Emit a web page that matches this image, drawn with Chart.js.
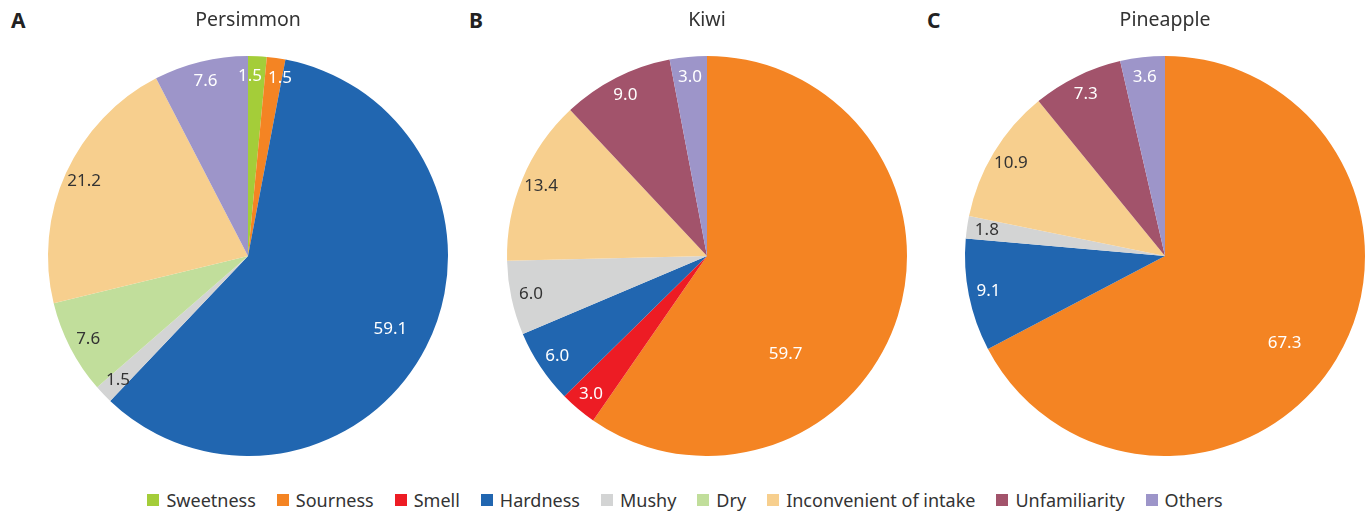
<!DOCTYPE html>
<html>
<head>
<meta charset="utf-8">
<script src="https://cdn.jsdelivr.net/npm/chart.js@4/dist/chart.umd.min.js"></script>
<style>
  html, body { margin: 0; padding: 0; background: #fff; }
  body { width: 1370px; height: 516px; position: relative; overflow: hidden; font-family: "Noto Sans", sans-serif; }
  .panel { position: absolute; top: 0; width: 458px; height: 456px; }
  .tag { position: absolute; top: 6px; font: bold 21px "Noto Sans", sans-serif; color: #222; }
  #legend { position: absolute; left: 0; right: 0; top: 488px; display: flex; justify-content: center; align-items: center; font-size: 18px; color: #333; }
  #legend .item { display: flex; align-items: center; margin: 0 10.5px; }
  #legend .box { width: 12px; height: 12px; margin-right: 7px; }
</style>
</head>
<body>
<div class="tag" style="left:11px">A</div>
<div class="tag" style="left:469px">B</div>
<div class="tag" style="left:927px">C</div>
<div class="panel" style="left:19px"><canvas id="c0" width="458" height="456"></canvas></div>
<div class="panel" style="left:478px"><canvas id="c1" width="458" height="456"></canvas></div>
<div class="panel" style="left:936px"><canvas id="c2" width="458" height="456"></canvas></div>
<div id="legend"></div>
<script>
// Reasons given, in percent, per fruit
const categories = ['Sweetness', 'Sourness', 'Smell', 'Hardness', 'Mushy', 'Dry', 'Inconvenient of intake', 'Unfamiliarity', 'Others'];
const fruits = ['Persimmon', 'Kiwi', 'Pineapple'];
const persimmon = [1.5, 1.5, 0, 59.1, 1.5, 7.6, 21.2, 0, 7.6];
const kiwi = [0, 59.7, 3.0, 6.0, 6.0, 0, 13.4, 9.0, 3.0];
const pineapple = [0, 67.3, 0, 9.1, 1.8, 0, 10.9, 7.3, 3.6];

const sliceColors = ['#a4cd39', '#f48423', '#ed1c24', '#2166b0', '#d3d4d4', '#c1de9b', '#f7cf8e', '#a2536b', '#9d95c9'];
const textColors = ['#fff', '#fff', '#fff', '#fff', '#333', '#333', '#333', '#fff', '#fff'];

// where the value of the largest slice sits (radius fraction, angular shift in degrees)
const majorPlacement = [
  { radius: 0.80, shift: 0 },
  { radius: 0.63, shift: 34 },
  { radius: 0.74, shift: 5 }
];

const sliceLabels = {
  id: 'sliceLabels',
  afterDatasetsDraw(chart, args, opts) {
    const ctx = chart.ctx;
    const meta = chart.getDatasetMeta(0);
    const data = chart.data.datasets[0].data;
    const maxI = data.indexOf(Math.max(...data));
    ctx.save();
    ctx.font = '17px "Noto Sans", sans-serif';
    ctx.textAlign = 'center';
    ctx.textBaseline = 'middle';
    const items = [];
    meta.data.forEach((arc, i) => {
      const v = data[i];
      if (!v) return;
      const p = arc.getProps(['x', 'y', 'startAngle', 'endAngle', 'outerRadius'], true);
      let mid = (p.startAngle + p.endAngle) / 2;
      let rf = opts.radius;
      if (i === maxI) {
        mid += opts.major.shift * Math.PI / 180;
        rf = opts.major.radius;
      }
      const text = v.toFixed(1);
      items.push({
        i, text,
        x: p.x + Math.cos(mid) * rf * p.outerRadius,
        y: p.y + Math.sin(mid) * rf * p.outerRadius,
        w: ctx.measureText(text).width
      });
    });
    // push neighbouring labels apart sideways when they collide
    for (let k = 0; k + 1 < items.length; k++) {
      const a = items[k], b = items[k + 1];
      const need = (a.w + b.w) / 2 + 6;
      if (Math.abs(a.y - b.y) < 16 && Math.abs(a.x - b.x) < need) {
        const d = (need - Math.abs(a.x - b.x)) / 2;
        const s = a.x <= b.x ? 1 : -1;
        a.x -= s * d;
        b.x += s * d;
      }
    }
    items.forEach(it => {
      ctx.fillStyle = textColors[it.i];
      ctx.fillText(it.text, it.x, it.y);
    });
    ctx.restore();
  }
};

[persimmon, kiwi, pineapple].forEach((values, k) => {
  new Chart(document.getElementById('c' + k), {
    type: 'pie',
    data: {
      labels: categories,
      datasets: [{
        data: values,
        backgroundColor: sliceColors,
        borderWidth: 0,
        hoverOffset: 0
      }]
    },
    options: {
      responsive: false,
      animation: false,
      devicePixelRatio: 1,
      layout: { padding: 0 },
      events: [],
      plugins: {
        legend: { display: false },
        tooltip: { enabled: false },
        title: {
          display: true,
          text: fruits[k],
          color: '#333',
          font: { family: '"Noto Sans", sans-serif', size: 19.5, weight: 'normal' },
          padding: { top: 8.5, bottom: 24.1 }
        },
        sliceLabels: { radius: 0.9, major: majorPlacement[k] }
      }
    },
    plugins: [sliceLabels]
  });
});

// shared legend
const legend = document.getElementById('legend');
categories.forEach((name, i) => {
  const item = document.createElement('div');
  item.className = 'item';
  const box = document.createElement('span');
  box.className = 'box';
  box.style.background = sliceColors[i];
  const txt = document.createElement('span');
  txt.textContent = name;
  item.appendChild(box);
  item.appendChild(txt);
  legend.appendChild(item);
});
</script>
</body>
</html>
